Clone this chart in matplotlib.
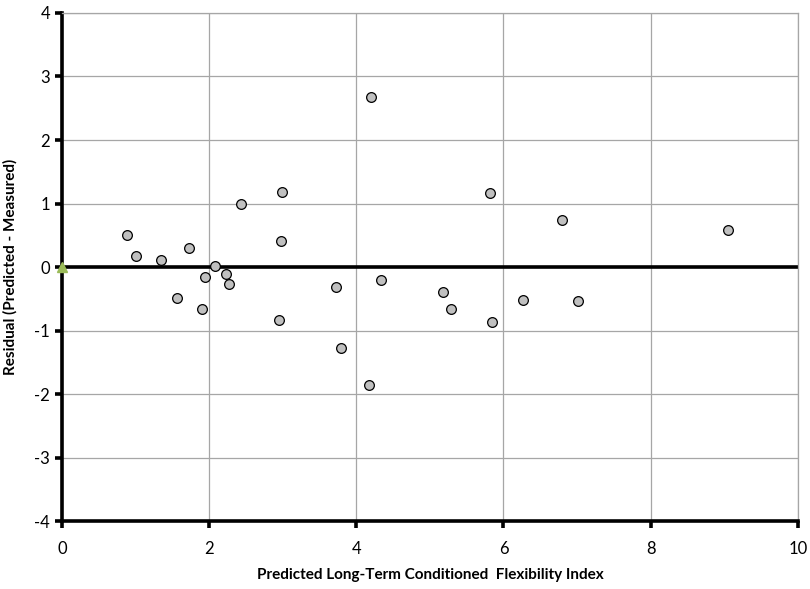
import matplotlib.pyplot as plt
import numpy as np

# predicted flexibility index vs residual
predicted = [0.89, 1.01, 1.35, 1.73, 1.57, 1.94, 1.90, 2.08, 2.23, 2.27,
             2.43, 2.99, 2.98, 2.95, 3.73, 3.79, 4.17, 4.20, 4.33, 5.18,
             5.29, 5.81, 5.85, 6.27, 6.80, 7.01, 9.05]
residual = [0.50, 0.17, 0.11, 0.30, -0.49, -0.16, -0.66, 0.02, -0.11, -0.26,
            0.99, 1.18, 0.41, -0.84, -0.32, -1.28, -1.86, 2.67, -0.21, -0.39,
            -0.66, 1.17, -0.86, -0.51, 0.74, -0.53, 0.58]

origin_x = [0]
origin_y = [0]

x_ticks = [0, 2, 4, 6, 8, 10]
y_ticks = [-4, -3, -2, -1, 0, 1, 2, 3, 4]

plt.rcParams['font.family'] = ['Lato', 'DejaVu Sans']
plt.rcParams['axes.unicode_minus'] = False

fig = plt.figure(figsize=(8.1, 5.89), dpi=100)
ax = fig.add_axes([0.0765, 0.115, 0.9085, 0.863])

ax.set_xlim(0, 10)
ax.set_ylim(-4, 4)
ax.set_xticks(x_ticks)
ax.set_yticks(y_ticks)
ax.grid(True, color='#a6a6a6', linewidth=0.9)
ax.set_axisbelow(True)

# thick zero line
ax.axhline(0, color='black', linewidth=2.6, zorder=2)

ax.plot(predicted, residual, 'o', markersize=7, markerfacecolor='#c0c0c0',
        markeredgecolor='black', markeredgewidth=0.9, zorder=3)
ax.plot(origin_x, origin_y, '^', markersize=7, color='#9bbb59', zorder=4,
        clip_on=False)

for side in ['left', 'bottom']:
    ax.spines[side].set_linewidth(2.6)
    ax.spines[side].set_color('black')
for side in ['top', 'right']:
    ax.spines[side].set_color('#a6a6a6')
    ax.spines[side].set_linewidth(0.9)

ax.tick_params(axis='both', direction='out', length=5, width=2.6,
               labelsize=12, color='black')
ax.tick_params(axis='x', pad=9)

ax.set_xlabel('Predicted Long-Term Conditioned  Flexibility Index',
              fontsize=11, fontweight='bold', labelpad=8)
ax.set_ylabel('Residual (Predicted - Measured)', fontsize=11,
              fontweight='bold', labelpad=12)

fig.savefig('out.png', dpi=100)
